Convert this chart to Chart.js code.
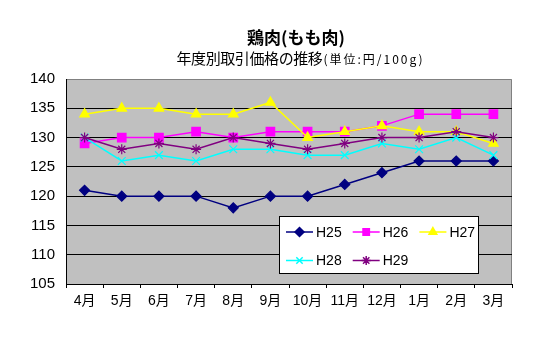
<!DOCTYPE html>
<html>
<head>
<meta charset="utf-8">
<script src="https://cdn.jsdelivr.net/npm/chart.js@4/dist/chart.umd.min.js"></script>
<style>
    body { margin: 0; background: #fff; }
    canvas { display: block; }
</style>
</head>
<body>
<canvas id="chicken" width="550" height="350"></canvas>
<script>
const months = ['4月', '5月', '6月', '7月', '8月', '9月', '10月', '11月', '12月', '1月', '2月', '3月'];
const seriesNames = ['H25', 'H26', 'H27', 'H28', 'H29'];
const h25 = [121, 120, 120, 120, 118, 120, 120, 122, 124, 126, 126, 126];
const h26 = [129, 130, 130, 131, 130, 131, 131, 131, 132, 134, 134, 134];
const h27 = [134, 135, 135, 134, 134, 136, 130, 131, 132, 131, 131, 129];
const h28 = [130, 126, 127, 126, 128, 128, 127, 127, 129, 128, 130, 127];
const h29 = [130, 128, 129, 128, 130, 129, 128, 129, 130, 130, 131, 130];
const yMin = 105;
const yMax = 140;
const yStep = 5;

const titleMain = '鶏肉(もも肉)';
const titleSub = '年度別取引価格の推移';
const titleUnit = '(単位:円/100g)';

const fontFamily = '"Liberation Sans", "Noto Sans CJK JP", sans-serif';
const cjkFamily = '"Noto Sans CJK JP", sans-serif';

const styles = [
    { color: '#000080', pointStyle: 'rectRot', radius: 5 },
    { color: '#ff00ff', pointStyle: 'rect', radius: 6 },
    { color: '#ffff00', pointStyle: 'triangle', radius: 5.5 },
    { color: '#00ffff', pointStyle: 'crossRot', radius: 5.5 },
    { color: '#800080', pointStyle: 'star', radius: 5 },
];

const values = [h25, h26, h27, h28, h29];

const datasets = values.map((data, i) => ({
    label: seriesNames[i],
    data: data,
    borderColor: styles[i].color,
    backgroundColor: styles[i].color,
    pointStyle: styles[i].pointStyle,
    pointRadius: styles[i].radius,
    pointHoverRadius: styles[i].radius,
    pointBorderWidth: 1.2,
    borderWidth: 1.5,
    tension: 0,
    order: values.length - i,
}));

// gray plot background + gray frame top/right
const plotBackground = {
    id: 'plotBackground',
    beforeDraw(chart) {
        const { ctx, chartArea: a } = chart;
        ctx.save();
        ctx.fillStyle = '#c0c0c0';
        ctx.fillRect(a.left, a.top, a.right - a.left, a.bottom - a.top);
        ctx.strokeStyle = '#808080';
        ctx.lineWidth = 1;
        ctx.beginPath();
        ctx.moveTo(a.left, a.top + 0.5);
        ctx.lineTo(a.right - 0.5, a.top + 0.5);
        ctx.lineTo(a.right - 0.5, a.bottom);
        ctx.stroke();
        ctx.restore();
    },
};

const titles = {
    id: 'titles',
    afterDraw(chart) {
        const { ctx } = chart;
        ctx.save();
        ctx.fillStyle = '#000';
        ctx.textBaseline = 'middle';
        ctx.textAlign = 'center';
        ctx.font = `bold 17px ${cjkFamily}`;
        ctx.fillText(titleMain, 296, 38);

        ctx.textAlign = 'left';
        const bigFont = `15px ${cjkFamily}`;
        const smallFont = `12px ${cjkFamily}`;
        ctx.font = bigFont;
        ctx.letterSpacing = '-0.4px';
        const w1 = ctx.measureText(titleSub).width;
        ctx.font = smallFont;
        ctx.letterSpacing = '2px';
        const w2 = ctx.measureText(titleUnit).width;
        const x0 = 300 - (w1 + w2) / 2;
        ctx.font = bigFont;
        ctx.letterSpacing = '-0.4px';
        ctx.fillText(titleSub, x0, 58);
        ctx.font = smallFont;
        ctx.letterSpacing = '2px';
        ctx.fillText(titleUnit, x0 + w1 + 1, 59);
        ctx.restore();
    },
};

// legend box drawn inside the plot area
const boxLegend = {
    id: 'boxLegend',
    afterDraw(chart) {
        const { ctx } = chart;
        const box = { x: 279.5, y: 216.5, w: 199, h: 57 };
        ctx.save();
        ctx.fillStyle = '#fff';
        ctx.strokeStyle = '#000';
        ctx.lineWidth = 1;
        ctx.fillRect(box.x, box.y, box.w, box.h);
        ctx.strokeRect(box.x, box.y, box.w, box.h);

        chart.data.datasets.forEach((ds, i) => {
            const col = i % 3;
            const row = Math.floor(i / 3);
            const lx = 286 + col * 66.7;
            const ly = 232 + row * 28.5;
            ctx.strokeStyle = ds.borderColor;
            ctx.fillStyle = ds.backgroundColor;
            ctx.lineWidth = 1.5;
            ctx.beginPath();
            ctx.moveTo(lx, ly);
            ctx.lineTo(lx + 27, ly);
            ctx.stroke();
            Chart.helpers.drawPoint(ctx, {
                pointStyle: ds.pointStyle,
                radius: Math.min(ds.pointRadius, 4.5),
                borderWidth: 1.2,
                rotation: 0,
            }, lx + 13.5, ly);
            ctx.fillStyle = '#000';
            ctx.font = `14px ${fontFamily}`;
            ctx.textBaseline = 'middle';
            ctx.textAlign = 'left';
            ctx.fillText(ds.label, lx + 30, ly + 1);
        });
        ctx.restore();
    },
};

const config = {
    type: 'line',
    data: {
        labels: months,
        datasets: datasets,
    },
    options: {
        responsive: false,
        animation: false,
        layout: {
            padding: { top: 79, right: 38, bottom: 0, left: 0 },
        },
        plugins: {
            legend: { display: false },
            title: { display: false },
            tooltip: { enabled: false },
        },
        scales: {
            x: {
                offset: true,
                afterFit: (scale) => { scale.height = 66; },
                grid: {
                    offset: true,
                    drawOnChartArea: false,
                    tickLength: 4,
                    color: '#000',
                },
                border: { color: '#000', width: 1 },
                ticks: {
                    color: '#000',
                    padding: 5,
                    maxRotation: 0,
                    autoSkip: false,
                    font: { family: fontFamily, size: 14 },
                },
            },
            y: {
                min: yMin,
                max: yMax,
                afterFit: (scale) => { scale.width = 66; },
                grid: {
                    drawTicks: false,
                    color: (c) => (c.tick && c.tick.value === yMax ? 'rgba(0,0,0,0)' : '#000'),
                    lineWidth: 1,
                },
                border: { color: '#000', width: 1 },
                ticks: {
                    stepSize: yStep,
                    color: '#000',
                    padding: 11,
                    font: { family: fontFamily, size: 15 },
                },
            },
        },
    },
    plugins: [plotBackground, titles, boxLegend],
};

const chickenChart = new Chart(document.getElementById('chicken'), config);
</script>
</body>
</html>
